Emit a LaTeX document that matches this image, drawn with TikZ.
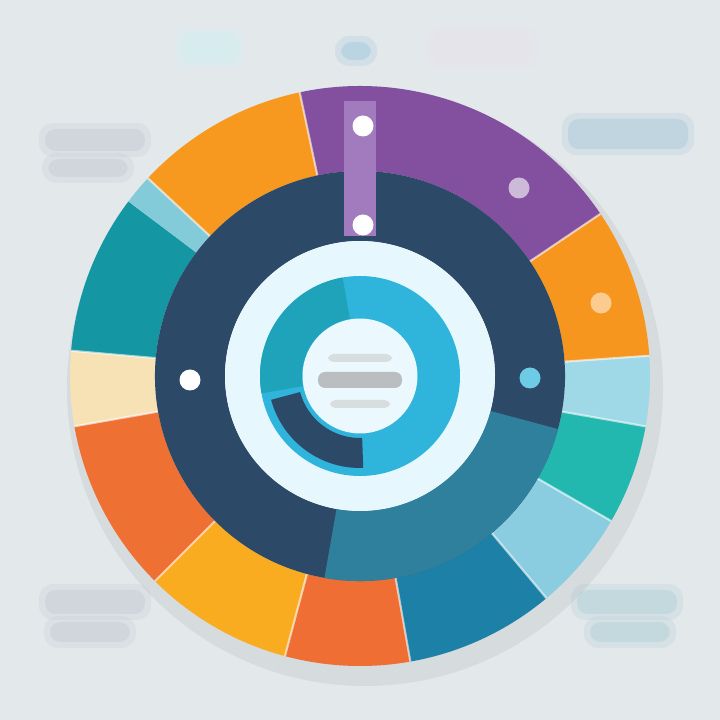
\documentclass[tikz,border=0pt]{standalone}
\usetikzlibrary{positioning}
\definecolor{bgc}{HTML}{E3E8EB}
\definecolor{navy}{HTML}{2C4A68}
\definecolor{navyteal}{HTML}{2E809C}
\definecolor{purp}{HTML}{82509F}
\definecolor{purplt}{HTML}{A27BBE}
\definecolor{orng}{HTML}{F7961F}
\definecolor{orngred}{HTML}{EE6E33}
\definecolor{yelo}{HTML}{F9AC20}
\definecolor{paleyel}{HTML}{F7E2B6}
\definecolor{tealdk}{HTML}{1497A3}
\definecolor{tealgr}{HTML}{22B7AF}
\definecolor{cyanlt}{HTML}{9FD8E6}
\definecolor{bluelt}{HTML}{8BCDE0}
\definecolor{bluedk}{HTML}{1C80A7}
\definecolor{cyanmd}{HTML}{2FB4DC}
\definecolor{smudge}{HTML}{C4CBD3}
\newcommand{\ringseg}[5]{\fill[#1] (#2:#5) arc[start angle=#2,end angle=#3,radius=#5] -- (#3:#4) arc[start angle=#3,end angle=#2,radius=#4] -- cycle;}
\newcommand{\blob}[5]{%
  \fill[#5, opacity=.25, rounded corners=8] (#1-#3/2-6,#2-#4/2-6) rectangle (#1+#3/2+6,#2+#4/2+6);
  \fill[#5, opacity=.45, rounded corners=6] (#1-#3/2,#2-#4/2) rectangle (#1+#3/2,#2+#4/2);}
\begin{document}
\begin{tikzpicture}[x=0.02cm,y=0.02cm,
    dot/.style={circle,fill=white,inner sep=0pt,minimum size=0.42cm}]
  \fill[bgc] (0,0) rectangle (720,720);
  \useasboundingbox (0,0) rectangle (720,720);
  % faint labels round the wheel
  \blob{95}{580}{100}{22}{smudge}
  \blob{88}{552}{80}{18}{smudge}
  \blob{210}{672}{58}{30}{smudge!70!cyan!40}
  \blob{356}{669}{30}{18}{cyan!25!smudge}
  \blob{482}{672}{100}{30}{smudge!80!violet!30}
  \blob{628}{586}{120}{30}{cyan!20!smudge}
  \blob{95}{118}{100}{24}{smudge}
  \blob{90}{88}{80}{20}{smudge}
  \blob{627}{118}{100}{24}{smudge!90!cyan}
  \blob{630}{88}{80}{20}{smudge!90!cyan}
  % shadow
  \fill[gray, opacity=.12] (365,332) ellipse[x radius=298,y radius=298];
  \begin{scope}[shift={(360,344)}]
    % outer ring
    \ringseg{purp}{34}{102}{205}{290}
    \ringseg{orng}{4}{34}{205}{290}
    \ringseg{cyanlt}{-10}{4}{205}{290}
    \ringseg{tealgr}{-30}{-10}{205}{290}
    \ringseg{bluelt}{-50}{-30}{205}{290}
    \ringseg{bluedk}{-80}{-50}{205}{290}
    \ringseg{orngred}{-105}{-80}{205}{290}
    \ringseg{yelo}{-135}{-105}{205}{290}
    \ringseg{orngred!95!orng}{-170}{-135}{205}{290}
    \ringseg{paleyel}{175}{190}{205}{290}
    \ringseg{tealdk}{143}{175}{205}{290}
    \ringseg{cyanlt!80!tealdk}{137}{143}{205}{290}
    \ringseg{orng!90!yelo}{102}{137}{205}{290}
    \foreach \a in {34,4,-10,-30,-50,-80,-105,-135,-170,175,137,102}
      \draw[white, line width=1.2pt, opacity=.6] (\a:205) -- (\a:290);
    % dark ring
    \ringseg{navy}{-15}{345}{135}{205}
    \ringseg{navyteal}{-100}{-15}{135}{205}
    \fill[purplt] (-16,140) rectangle (16,275);
    % light ring and hub
    \fill[white!90!cyan] (0,0) circle[radius=135];
    \fill[cyanmd] (0,0) circle[radius=100];
    \ringseg{tealdk!60!cyanmd}{100}{190}{58}{100}
    \ringseg{navy}{195}{272}{62}{92}
  \end{scope}
  \node[dot] (dotA) at (363,594) {};
  \node[dot] (dotB) at (363,495) {};
  \node[dot] (dotC) at (190,340) {};
  \node[dot, fill=cyanmd!70] (dotD) at (530,342) {};
  \node[dot, opacity=.6] (dotE) at (519,532) {};
  \node[dot, fill=orng!50!white] (dotF) at (601,417) {};
  \node[circle, fill=white!92!cyan, minimum size=2.3cm] (hub) at (360,344) {};
  \fill[gray!70, opacity=.7, rounded corners=4] (318,332) rectangle (402,348);
  \fill[gray!40, opacity=.6, rounded corners=3] (328,358) rectangle (392,366);
  \fill[gray!40, opacity=.6, rounded corners=3] (330,312) rectangle (390,320);
\end{tikzpicture}
\end{document}
